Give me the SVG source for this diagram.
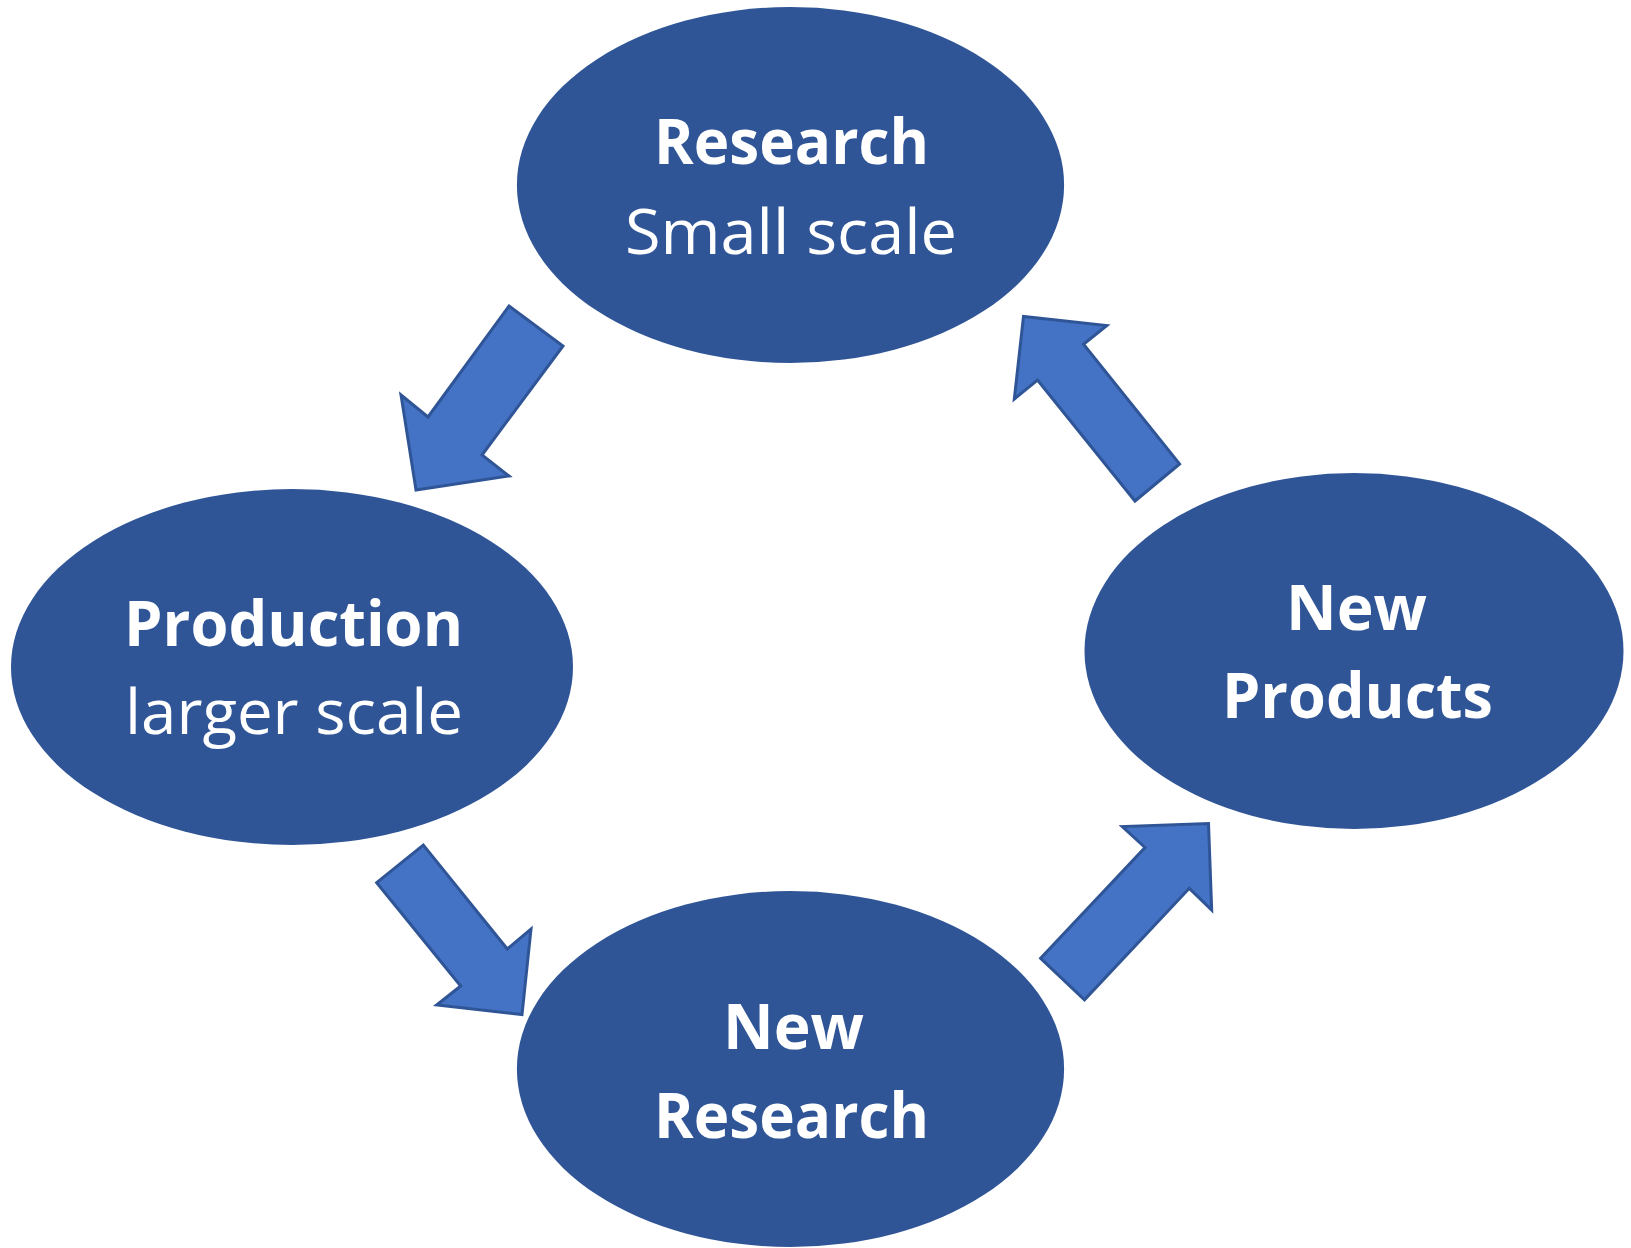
<svg xmlns="http://www.w3.org/2000/svg" width="1631" height="1248" viewBox="0 0 1631 1248">
<style>
.node{fill:#2F5597;}
.arrow{fill:#4472C4;stroke:#2F5597;stroke-width:3;stroke-linejoin:miter;}
.t{font-family:"Open Sans","Noto Sans","Liberation Sans",sans-serif;font-size:63px;fill:#FFFFFF;text-anchor:middle;}
.b{font-weight:700;}
</style>
<rect width="1631" height="1248" fill="#FFFFFF"/>
<g id="connectors">
<polygon class="arrow" points="509,306 563,346 482,455 509,476 416,490 401,395 428,417"/>
<polygon class="arrow" points="376.7,882.7 423.3,845 507.3,949 531,929 522,1014.5 436.7,1005 460.7,986"/>
<polygon class="arrow" points="1040.7,958.3 1084.5,999.8 1189.3,888.3 1211.7,910 1208.5,823.5 1122.3,826.5 1145,847.5"/>
<polygon class="arrow" points="1179.6,464 1135,501 1037.5,380 1014.3,399 1023.5,316.5 1106.8,325.5 1083.5,344.3"/>
</g>
<g id="node-research">
<ellipse class="node" cx="790.5" cy="185" rx="273.6" ry="178"/>
<text class="t b" x="791.5" y="164.4" textLength="275" lengthAdjust="spacingAndGlyphs">Research</text>
<text class="t" x="791" y="254" textLength="332" lengthAdjust="spacingAndGlyphs">Small scale</text>
</g>
<g id="node-production">
<ellipse class="node" cx="292" cy="667" rx="281" ry="178"/>
<text class="t b" x="293.5" y="646" textLength="339" lengthAdjust="spacingAndGlyphs">Production</text>
<text class="t" x="294" y="734" textLength="338" lengthAdjust="spacingAndGlyphs">larger scale</text>
</g>
<g id="node-new-research">
<ellipse class="node" cx="790.5" cy="1069" rx="273.6" ry="178"/>
<text class="t b" x="793.5" y="1048.5" textLength="141" lengthAdjust="spacingAndGlyphs">New</text>
<text class="t b" x="791.5" y="1138" textLength="275" lengthAdjust="spacingAndGlyphs">Research</text>
</g>
<g id="node-new-products">
<ellipse class="node" cx="1354" cy="651" rx="269.5" ry="178"/>
<text class="t b" x="1356.5" y="629.5" textLength="141" lengthAdjust="spacingAndGlyphs">New</text>
<text class="t b" x="1357.5" y="718" textLength="271" lengthAdjust="spacingAndGlyphs">Products</text>
</g>
</svg>
